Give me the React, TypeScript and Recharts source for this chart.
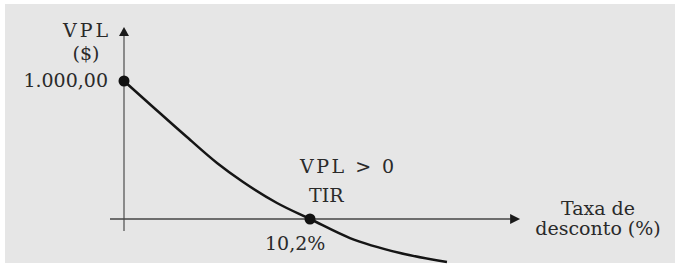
import React from "react";
import { LineChart, Line, XAxis, YAxis, ReferenceLine, ReferenceDot } from "recharts";

// Discount rate (%) and NPV ($)
const rates = [0, 1.59, 3.45, 5.1, 6.53, 8.39, 10.2, 12.39, 15.14, 17.71];
const npvValues = [1000, 812, 594, 406, 268, 116, 0, -138, -246, -312];

const startPoint = { rate: 0, npv: 1000 };
const irrPoint = { rate: 10.2, npv: 0 };

const yAxisLabel = ["VPL", "($)"];
const startLabel = "1.000,00";
const noteLabel = "VPL > 0";
const irrLabel = "TIR";
const irrValueLabel = "10,2%";
const xAxisLabel = ["Taxa de", "desconto (%)"];

const data = rates.map((r, i) => ({ rate: r, npv: npvValues[i] }));

const W = 682;
const H = 267;
const FONT = "'DejaVu Serif', serif";
const TEXT = "#2a2a2a";

const UpArrow = (p: any) => (
  <polygon
    points={`${p.cx},${p.cy} ${p.cx - 5},${p.cy + 9} ${p.cx + 5},${p.cy + 9}`}
    fill="#1a1a1a"
  />
);
const RightArrow = (p: any) => (
  <polygon
    points={`${p.cx},${p.cy} ${p.cx - 10},${p.cy - 5} ${p.cx - 10},${p.cy + 5}`}
    fill="#1a1a1a"
  />
);
const BigDot = (p: any) => <circle cx={p.cx} cy={p.cy} r={5.5} fill="#111" />;

export default function App() {
  return (
    <div style={{ position: "absolute", left: 0, top: 0, width: W, height: H, background: "#fff" }}>
      <div
        style={{
          position: "absolute",
          left: 5,
          top: 4,
          width: 670,
          height: 259,
          background: "#e6e6e6",
        }}
      />
      <div style={{ position: "absolute", left: 0, top: 0 }}>
        <LineChart
          width={W}
          height={H}
          data={data}
          margin={{ top: 25.8, right: 156.8, bottom: 1.08, left: 105.77 }}
        >
          <XAxis type="number" dataKey="rate" domain={[-1, 22]} hide />
          <YAxis type="number" domain={[-340, 1400]} hide />
          <ReferenceLine
            segment={[
              { x: 0, y: -87 },
              { x: 0, y: 1340 },
            ]}
            stroke="#8a8a8a"
            strokeWidth={2}
          />
          <ReferenceLine
            segment={[
              { x: -0.77, y: 0 },
              { x: 21.2, y: 0 },
            ]}
            stroke="#444"
            strokeWidth={1.5}
          />
          <ReferenceDot x={0} y={1391} shape={UpArrow} />
          <ReferenceDot x={21.72} y={0} shape={RightArrow} />
          <Line
            type="monotone"
            dataKey="npv"
            stroke="#151515"
            strokeWidth={2.5}
            dot={false}
            isAnimationActive={false}
          />
          <ReferenceDot x={startPoint.rate} y={startPoint.npv} shape={BigDot} />
          <ReferenceDot x={irrPoint.rate} y={irrPoint.npv} shape={BigDot} />
        </LineChart>
      </div>
      <svg
        width={W}
        height={H}
        style={{ position: "absolute", left: 0, top: 0, pointerEvents: "none" }}
        fontFamily={FONT}
        fontSize={19}
        fill={TEXT}
      >
        <text x={63} y={37} letterSpacing={3}>{yAxisLabel[0]}</text>
        <text x={86} y={60} textAnchor="middle">{yAxisLabel[1]}</text>
        <text x={108} y={87} textAnchor="end">{startLabel}</text>
        <text x={300} y={173} letterSpacing={2.5}>{noteLabel}</text>
        <text x={309} y={202}>{irrLabel}</text>
        <text x={265} y={250}>{irrValueLabel}</text>
        <text x={598} y={215} textAnchor="middle">{xAxisLabel[0]}</text>
        <text x={598} y={235} textAnchor="middle">{xAxisLabel[1]}</text>
      </svg>
    </div>
  );
}
